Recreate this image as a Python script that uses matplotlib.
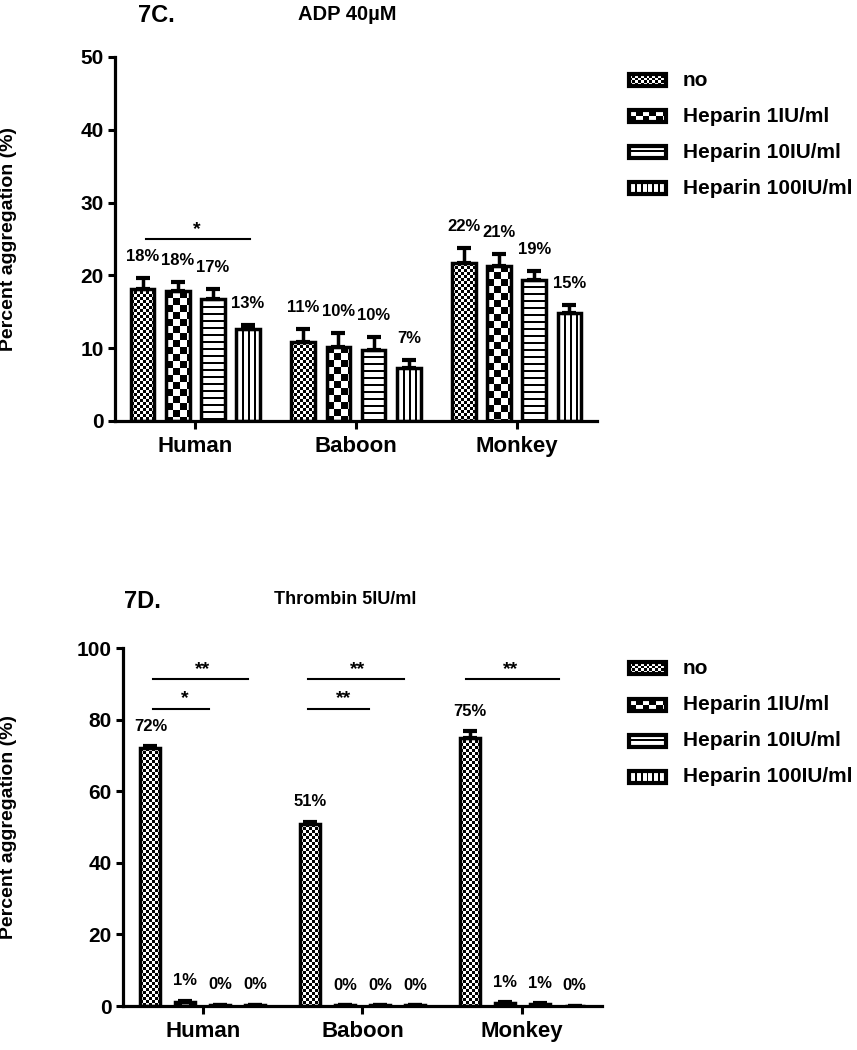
import numpy as np
import matplotlib
matplotlib.use("Agg")
import matplotlib.pyplot as plt
from matplotlib.patches import Rectangle

plt.rcParams['font.family'] = ['Liberation Sans', 'DejaVu Sans']

# ---------------- data ----------------
species = ["Human", "Baboon", "Monkey"]
treatments = ["no", "Heparin 1IU/ml", "Heparin 10IU/ml", "Heparin 100IU/ml"]

# 7C: ADP 40uM  (rows = species, cols = treatments)
adp_mean = [[18.2, 17.8, 16.7, 12.7],
            [10.8, 10.2, 9.8, 7.3],
            [21.7, 21.3, 19.4, 14.9]]
adp_err = [[1.4, 1.3, 1.5, 0.5],
           [1.8, 1.9, 1.8, 1.1],
           [2.1, 1.7, 1.2, 1.0]]

# 7D: Thrombin 5IU/ml
thr_mean = [[72.0, 1.0, 0.3, 0.3],
            [50.7, 0.2, 0.2, 0.2],
            [75.0, 0.8, 0.6, 0.0]]
thr_err = [[0.6, 0.4, 0.0, 0.0],
           [0.8, 0.0, 0.0, 0.0],
           [1.8, 0.2, 0.1, 0.0]]

adp_yticks = [0, 10, 20, 30, 40, 50]
thr_yticks = [0, 20, 40, 60, 80, 100]

# significance bars: (x_start, x_end, y, label, label_x)  in data units
adp_sig = [(-0.31, 0.34, 25.0, "*", 0.01)]
thr_sig = [(-0.31, 0.28, 91.3, "**", 0.0),
           (-0.31, 0.04, 83.0, "*", -0.11),
           (0.66, 1.26, 91.3, "**", 0.97),
           (0.66, 1.04, 83.0, "**", 0.88),
           (1.65, 2.23, 91.3, "**", 1.93)]

patterns = ["fine", "coarse", "hlines", "vlines"]

W, H = 857, 1050
fig = plt.figure(figsize=(W / 100, H / 100), dpi=100)


def pattern_array(kind, hpx, wpx):
    i = np.arange(hpx)[:, None]
    j = np.arange(wpx)[None, :]
    if kind == "fine":
        a = ((i // 3) + (j // 3)) % 2
    elif kind == "coarse":
        a = ((i // 7) + (j // 7)) % 2
    elif kind == "hlines":
        a = np.where(i % 7 < 2, 0, 1) + 0 * j
    else:
        a = np.where(j % 6 < 2, 0, 1) + 0 * i
    return a.astype(float)


def fill_pattern(ax, rect, kind, z=2.2):
    x0, y0 = rect.get_x(), rect.get_y()
    w, h = rect.get_width(), rect.get_height()
    if h <= 0:
        return
    p0 = ax.transData.transform((x0, y0))
    p1 = ax.transData.transform((x0 + w, y0 + h))
    wpx = int(abs(p1[0] - p0[0])) + 1
    hpx = int(abs(p1[1] - p0[1])) + 1
    arr = pattern_array(kind, hpx, wpx)
    ylo, yhi = min(y0, y0 + h), max(y0, y0 + h)
    im = ax.imshow(arr, cmap="gray", vmin=0, vmax=1, extent=(x0, x0 + w, ylo, yhi),
                   interpolation="nearest", aspect="auto", zorder=z)
    im.set_clip_path(rect)


def px_axes(left, top, right, bottom):
    return fig.add_axes([left / W, 1 - bottom / H, (right - left) / W, (bottom - top) / H])


def draw_panel(ax, means, errs, yticks, sig, bar_w, label_off, left_px):
    means = np.array(means)
    errs = np.array(errs)
    ax.set_xlim(-0.5, 2.5)
    ax.set_ylim(yticks[0], yticks[-1])
    x = np.arange(len(species))
    step = 0.219
    for k, kind in enumerate(patterns):
        xs = x + (k - 1.5) * step
        bars = ax.bar(xs, means[:, k], width=bar_w, color="white", edgecolor="none", zorder=2)
        for b in bars:
            fill_pattern(ax, b, kind)
        ax.bar(xs, means[:, k], width=bar_w, facecolor="none", edgecolor="black",
               linewidth=2.5, zorder=3)
        ax.errorbar(xs, means[:, k], yerr=[np.zeros(len(x)), errs[:, k]], fmt="none",
                    ecolor="black", elinewidth=2.5, capsize=5, capthick=3, zorder=4)
        for xi, m, e in zip(xs, means[:, k], errs[:, k]):
            ax.annotate(f"{m:.0f}%", (xi, m + e), xytext=(0, label_off),
                        textcoords="offset points", ha="center", va="bottom",
                        fontsize=12, fontweight="bold", annotation_clip=False)
    for x0, x1, y, lab, lx in sig:
        ax.plot([x0, x1], [y, y], color="black", lw=1.5, clip_on=False, zorder=5)
        ax.annotate(lab, (lx, y), xytext=(0, 1), textcoords="offset points",
                    ha="center", va="bottom", fontsize=14, fontweight="bold",
                    annotation_clip=False)
    ax.set_xticks(x)
    ax.set_xticklabels(species, fontsize=16, fontweight="bold")
    ax.set_yticks(yticks)
    ax.set_yticklabels([str(t) for t in yticks], fontsize=15, fontweight="bold")
    for s in ["top", "right"]:
        ax.spines[s].set_visible(False)
    for s in ["left", "bottom"]:
        ax.spines[s].set_linewidth(2.3)
    ax.tick_params(axis="y", length=5, width=2.2, pad=3)
    ax.tick_params(axis="x", length=6, width=2.2, pad=5)
    ax.set_ylabel("Percent aggregation (%)", fontsize=14, fontweight="bold")
    bbox = ax.get_position()
    ax.yaxis.set_label_coords((17 - left_px) / (bbox.width * W), 0.5)
    ax.set_facecolor("none")


ax1 = px_axes(115, 57, 597, 421)
draw_panel(ax1, adp_mean, adp_err, adp_yticks, adp_sig, 0.147, 10, 115)

ax2 = px_axes(123, 648, 602, 1006)
draw_panel(ax2, thr_mean, thr_err, thr_yticks, thr_sig, 0.125, 9, 123)

# overlay axes in pixel coordinates for titles and legends
ov = fig.add_axes([0, 0, 1, 1])
ov.set_xlim(0, W)
ov.set_ylim(H, 0)
ov.axis("off")
ov.patch.set_alpha(0)

ov.text(138, 15, "7C.", fontsize=17, fontweight="bold", va="center", ha="left")
ov.text(298, 14, "ADP 40\u00b5M", fontsize=14.5, fontweight="bold", va="center", ha="left")
ov.text(124, 601, "7D.", fontsize=17, fontweight="bold", va="center", ha="left")
ov.text(274, 600, "Thrombin 5IU/ml", fontsize=13, fontweight="bold", va="center", ha="left")


def draw_legend(ycenters):
    for yc, lab, kind in zip(ycenters, treatments, patterns):
        r = Rectangle((629, yc - 6), 37, 12, facecolor="white", edgecolor="none", zorder=2)
        ov.add_patch(r)
        fill_pattern(ov, r, kind)
        ov.add_patch(Rectangle((629, yc - 6), 37, 12, facecolor="none", edgecolor="black",
                               linewidth=3, zorder=3))
        ov.text(683, yc, lab, fontsize=15, fontweight="bold", va="center", ha="left")


draw_legend([80, 116, 152, 188])
draw_legend([668, 705, 741, 777])
ov.set_xlim(0, W)
ov.set_ylim(H, 0)

fig.savefig("out.png", dpi=100)
